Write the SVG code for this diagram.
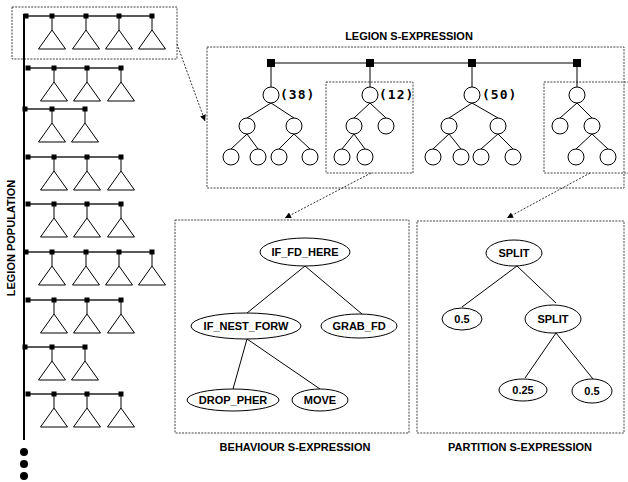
<svg xmlns="http://www.w3.org/2000/svg" width="628" height="482" viewBox="0 0 628 482">
  <defs>
    <marker id="arrow" viewBox="0 0 10 10" refX="10" refY="5" markerWidth="9" markerHeight="6" markerUnits="userSpaceOnUse" orient="auto">
      <path d="M0,0 L10,5 L0,10 z" fill="#000"/>
    </marker>
    <!-- subtree glyph used in the population column -->
    <path id="tri" d="M0,0 V14 M0,14 L-13.5,33 H13.5 Z" fill="none" stroke="#000" stroke-width="1"/>
    <rect id="sq" x="-2.5" y="-2.5" width="5" height="5" fill="#000"/>
    <rect id="bsq" x="-4" y="-4" width="8" height="8" fill="#000"/>
  </defs>
  <style>
    .frame { fill: none; stroke: #444; stroke-width: 1; stroke-dasharray: 2 1.2; }
    .ptr { fill: none; stroke: #333; stroke-width: 1; stroke-dasharray: 2 1.5; }
    .edge { fill: none; stroke: #000; stroke-width: 1; }
    .bar { fill: none; stroke: #222; stroke-width: 1.3; }
    .gene { fill: #fff; stroke: #000; stroke-width: 1; }
    .node { fill: #fff; stroke: #000; stroke-width: 1; }
    .lbl { font-family: "Liberation Sans", Arial, sans-serif; font-weight: bold; font-size: 11px; fill: #000; text-anchor: middle; }
    .score { font-family: "DejaVu Sans Mono", "Liberation Mono", monospace; font-weight: bold; font-size: 13px; fill: #000; letter-spacing: 1px; }
  </style>

  <rect width="628" height="482" fill="#fff"/>

  <!-- population column -->
  <g id="population">
    <rect class="frame" x="12" y="7" width="165" height="52"/>
    <line x1="24" y1="14" x2="24" y2="440" stroke="#000" stroke-width="2"/>
    <text class="lbl" transform="translate(15,238) rotate(-90)">LEGION POPULATION</text>

    <g id="legion-1">
      <line class="bar" x1="24" y1="16" x2="152" y2="16"/>
      <use href="#sq" x="26" y="16"/><use href="#sq" x="52" y="16"/><use href="#sq" x="86" y="16"/><use href="#sq" x="119" y="16"/><use href="#sq" x="152" y="16"/>
      <use href="#tri" x="52" y="16"/><use href="#tri" x="86" y="16"/><use href="#tri" x="119" y="16"/><use href="#tri" x="152" y="16"/>
    </g>
    <g id="legion-2">
      <line class="bar" x1="28" y1="68" x2="121" y2="68"/>
      <use href="#sq" x="28" y="68"/><use href="#sq" x="54" y="68"/><use href="#sq" x="87" y="68"/><use href="#sq" x="121" y="68"/>
      <use href="#tri" x="54" y="68"/><use href="#tri" x="87" y="68"/><use href="#tri" x="121" y="68"/>
    </g>
    <g id="legion-3">
      <line class="bar" x1="24" y1="109" x2="85" y2="109"/>
      <use href="#sq" x="25" y="109"/><use href="#sq" x="52" y="109"/><use href="#sq" x="85" y="109"/>
      <use href="#tri" x="52" y="109"/><use href="#tri" x="85" y="109"/>
    </g>
    <g id="legion-4">
      <line class="bar" x1="28" y1="157" x2="121" y2="157"/>
      <use href="#sq" x="28" y="157"/><use href="#sq" x="54" y="157"/><use href="#sq" x="87" y="157"/><use href="#sq" x="121" y="157"/>
      <use href="#tri" x="54" y="157"/><use href="#tri" x="87" y="157"/><use href="#tri" x="121" y="157"/>
    </g>
    <g id="legion-5">
      <line class="bar" x1="28" y1="204" x2="121" y2="204"/>
      <use href="#sq" x="28" y="204"/><use href="#sq" x="54" y="204"/><use href="#sq" x="87" y="204"/><use href="#sq" x="121" y="204"/>
      <use href="#tri" x="54" y="204"/><use href="#tri" x="87" y="204"/><use href="#tri" x="121" y="204"/>
    </g>
    <g id="legion-6">
      <line class="bar" x1="24" y1="252" x2="152" y2="252"/>
      <use href="#sq" x="26" y="252"/><use href="#sq" x="52" y="252"/><use href="#sq" x="86" y="252"/><use href="#sq" x="119" y="252"/><use href="#sq" x="152" y="252"/>
      <use href="#tri" x="52" y="252"/><use href="#tri" x="86" y="252"/><use href="#tri" x="119" y="252"/><use href="#tri" x="152" y="252"/>
    </g>
    <g id="legion-7">
      <line class="bar" x1="28" y1="300" x2="121" y2="300"/>
      <use href="#sq" x="28" y="300"/><use href="#sq" x="54" y="300"/><use href="#sq" x="87" y="300"/><use href="#sq" x="121" y="300"/>
      <use href="#tri" x="54" y="300"/><use href="#tri" x="87" y="300"/><use href="#tri" x="121" y="300"/>
    </g>
    <g id="legion-8">
      <line class="bar" x1="24" y1="347" x2="85" y2="347"/>
      <use href="#sq" x="25" y="347"/><use href="#sq" x="52" y="347"/><use href="#sq" x="85" y="347"/>
      <use href="#tri" x="52" y="347"/><use href="#tri" x="85" y="347"/>
    </g>
    <g id="legion-9">
      <line class="bar" x1="28" y1="394" x2="121" y2="394"/>
      <use href="#sq" x="28" y="394"/><use href="#sq" x="54" y="394"/><use href="#sq" x="87" y="394"/><use href="#sq" x="121" y="394"/>
      <use href="#tri" x="54" y="394"/><use href="#tri" x="87" y="394"/><use href="#tri" x="121" y="394"/>
    </g>
    <circle cx="24" cy="452" r="4" fill="#000"/>
    <circle cx="24" cy="464" r="4" fill="#000"/>
    <circle cx="24" cy="476" r="4" fill="#000"/>
  </g>

  <!-- one legion expanded -->
  <g id="legion-sexpr">
    <text class="lbl" x="409" y="40">LEGION S-EXPRESSION</text>
    <rect class="frame" x="207" y="47" width="417" height="141"/>
    <line x1="271" y1="63" x2="577" y2="63" stroke="#555" stroke-width="1.6"/>
    <use href="#bsq" x="271" y="63"/><use href="#bsq" x="370" y="63"/><use href="#bsq" x="472" y="63"/><use href="#bsq" x="577" y="63"/>

    <g id="member-1">
      <path class="edge" d="M271,63 V87 M271,103 L247,118 M271,103 L294,118 M247,134 L231,149 M247,134 L258,149 M294,134 L279,149 M294,134 L310,149"/>
      <circle class="gene" cx="271" cy="95" r="8"/>
      <circle class="gene" cx="247" cy="126" r="8"/><circle class="gene" cx="294" cy="126" r="8"/>
      <circle class="gene" cx="231" cy="157" r="8"/><circle class="gene" cx="258" cy="157" r="8"/><circle class="gene" cx="279" cy="157" r="8"/><circle class="gene" cx="310" cy="157" r="8"/>
      <text class="score" x="280" y="99">(38)</text>
    </g>
    <g id="member-2">
      <rect class="frame" x="326" y="82" width="87" height="91"/>
      <path class="edge" d="M370,63 V87 M370,103 L354,118 M370,103 L386,118 M354,134 L342,149 M354,134 L365,149"/>
      <circle class="gene" cx="370" cy="95" r="8"/>
      <circle class="gene" cx="354" cy="126" r="8"/><circle class="gene" cx="386" cy="126" r="8"/>
      <circle class="gene" cx="342" cy="157" r="8"/><circle class="gene" cx="365" cy="157" r="8"/>
      <text class="score" x="379" y="99">(12)</text>
    </g>
    <g id="member-3">
      <path class="edge" d="M472,63 V87 M472,103 L449,118 M472,103 L498,118 M449,134 L433,149 M449,134 L461,149 M498,134 L481,149 M498,134 L513,149"/>
      <circle class="gene" cx="472" cy="95" r="8"/>
      <circle class="gene" cx="449" cy="126" r="8"/><circle class="gene" cx="498" cy="126" r="8"/>
      <circle class="gene" cx="433" cy="157" r="8"/><circle class="gene" cx="461" cy="157" r="8"/><circle class="gene" cx="481" cy="157" r="8"/><circle class="gene" cx="513" cy="157" r="8"/>
      <text class="score" x="482" y="99">(50)</text>
    </g>
    <g id="member-4">
      <rect class="frame" x="544" y="82" width="90" height="91"/>
      <path class="edge" d="M577,63 V87 M577,103 L560,118 M577,103 L592,118 M592,134 L576,149 M592,134 L608,149"/>
      <circle class="gene" cx="577" cy="95" r="8"/>
      <circle class="gene" cx="560" cy="126" r="8"/><circle class="gene" cx="592" cy="126" r="8"/>
      <circle class="gene" cx="576" cy="157" r="8"/><circle class="gene" cx="608" cy="157" r="8"/>
    </g>
  </g>

  <!-- behaviour tree -->
  <g id="behaviour-sexpr">
    <rect class="frame" x="175" y="220" width="234" height="213"/>
    <text class="lbl" x="295" y="451">BEHAVIOUR S-EXPRESSION</text>
    <path class="edge" d="M305,266 L247,313 M305,266 L362,314 M247,339 L233,389 M247,339 L320,389"/>
    <g id="n-if-fd-here"><ellipse class="node" cx="305" cy="252" rx="45" ry="14"/><text class="lbl" x="305" y="256">IF_FD_HERE</text></g>
    <g id="n-if-nest-forw"><ellipse class="node" cx="246" cy="326" rx="55" ry="13"/><text class="lbl" x="246" y="330">IF_NEST_FORW</text></g>
    <g id="n-grab-fd"><ellipse class="node" cx="359" cy="326" rx="38" ry="12"/><text class="lbl" x="359" y="330">GRAB_FD</text></g>
    <g id="n-drop-pher"><ellipse class="node" cx="233" cy="400" rx="46" ry="11"/><text class="lbl" x="233" y="404">DROP_PHER</text></g>
    <g id="n-move"><ellipse class="node" cx="320" cy="400" rx="28" ry="11"/><text class="lbl" x="320" y="404">MOVE</text></g>
  </g>

  <!-- partition tree -->
  <g id="partition-sexpr">
    <rect class="frame" x="417" y="221" width="207" height="212"/>
    <text class="lbl" x="520" y="451">PARTITION S-EXPRESSION</text>
    <path class="edge" d="M517,266 L462,307 M517,266 L556,303 M556,333 L525,378 M556,333 L593,379"/>
    <g id="n-split-1"><ellipse class="node" cx="514" cy="253" rx="28" ry="13"/><text class="lbl" x="514" y="257">SPLIT</text></g>
    <g id="n-half-1"><ellipse class="node" cx="462" cy="319" rx="20" ry="11"/><text class="lbl" x="462" y="323">0.5</text></g>
    <g id="n-split-2"><ellipse class="node" cx="553" cy="319" rx="28" ry="14"/><text class="lbl" x="553" y="323">SPLIT</text></g>
    <g id="n-quarter"><ellipse class="node" cx="523" cy="390" rx="24" ry="11"/><text class="lbl" x="523" y="394">0.25</text></g>
    <g id="n-half-2"><ellipse class="node" cx="592" cy="391" rx="20" ry="12"/><text class="lbl" x="592" y="395">0.5</text></g>
  </g>

  <!-- zoom-in pointers -->
  <g id="connectors">
    <line class="ptr" x1="177" y1="44" x2="205" y2="121" marker-end="url(#arrow)"/>
    <line class="ptr" x1="371" y1="173" x2="285" y2="218" marker-end="url(#arrow)"/>
    <line class="ptr" x1="590" y1="173" x2="507" y2="218" marker-end="url(#arrow)"/>
  </g>
</svg>
